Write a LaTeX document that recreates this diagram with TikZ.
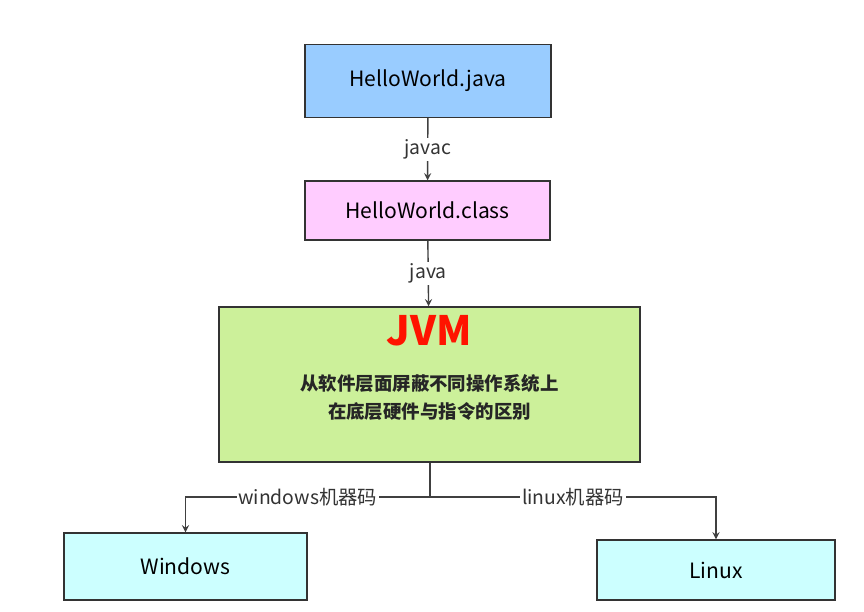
\documentclass[tikz,border=0pt]{standalone}
\usepackage{fontspec}
\setmainfont{Noto Sans CJK SC}
\usepackage{tikz}
\definecolor{javablue}{HTML}{99CCFF}
\definecolor{classpink}{HTML}{FFCCFF}
\definecolor{jvmgreen}{HTML}{CCF09A}
\definecolor{oscyan}{HTML}{CCFFFF}
\begin{document}
\begin{tikzpicture}[
        every node/.style={align=center, font=\fontsize{12}{14}\selectfont},
        arrow/.style={->, thick, >=stealth, draw=black!75},
        box/.style={rectangle, draw=black!80, thick},
        lbl/.style={fill=white, inner sep=1pt, font=\fontsize{11}{13}\selectfont, text=black!80}
    ]
        \useasboundingbox (0,0) rectangle (17.28,-12.24);
        % Source and bytecode
        \node[box, fill=javablue, minimum width=4.92cm, minimum height=1.46cm] (java) at (8.56,-1.62) {HelloWorld.java};
        \node[box, fill=classpink, minimum width=4.9cm, minimum height=1.18cm] (class) at (8.55,-4.21) {HelloWorld.class};

        % Virtual machine
        \node[box, fill=jvmgreen, minimum width=8.42cm, minimum height=3.1cm] (jvm) at (8.59,-7.69) {};
        \node[text=red!85!orange, font=\fontsize{23}{28}\selectfont\bfseries] (jvmtitle) at (8.59,-6.62) {JVM};
        \node[font=\fontsize{10.5}{16}\selectfont\bfseries, text=black!85] (jvmtext) at (8.59,-7.95) {从软件层面屏蔽不同操作系统上\\在底层硬件与指令的区别};

        % Platforms
        \node[box, fill=oscyan, minimum width=4.86cm, minimum height=1.34cm] (win) at (3.71,-11.33) {Windows};
        \node[box, fill=oscyan, minimum width=4.76cm, minimum height=1.2cm] (linux) at (14.32,-11.4) {Linux};
        \coordinate (split) at (8.6,-9.94);

        % Arrows
        \draw[arrow] (java) -- node[lbl] {javac} (class);
        \draw[arrow] (class) -- node[lbl] {java} (jvm);
        \draw[thick, draw=black!75] (jvm.south -| split) -- (split);
        \draw[arrow] (split) -- node[lbl, pos=0.5] {windows机器码} (split -| win) -- (win);
        \draw[arrow] (split) -- node[lbl, pos=0.5] {linux机器码} (split -| linux) -- (linux);
    \end{tikzpicture}
\end{document}
